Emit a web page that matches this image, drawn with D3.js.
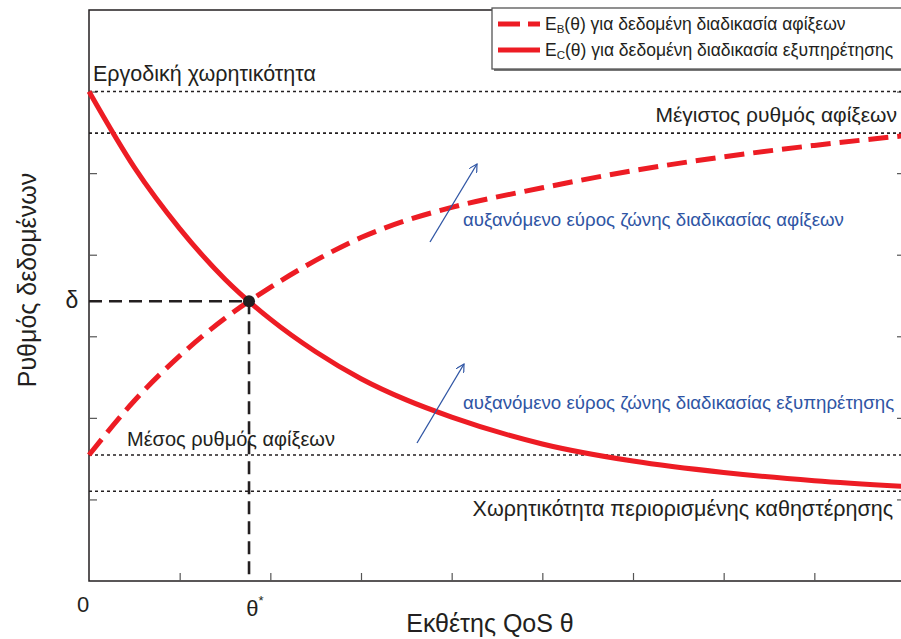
<!DOCTYPE html>
<html>
<head>
<meta charset="utf-8">
<script src="https://cdn.jsdelivr.net/npm/d3@7"></script>
<style>
  html, body { margin: 0; padding: 0; background: #fff; }
  svg { display: block; }
  text { font-family: "Liberation Sans", Arial, sans-serif; }
</style>
</head>
<body>
<svg id="chart" width="901" height="639"></svg>
<script>
// QoS exponent θ (x) and data rate (y), in axis units
const theta = [0, 0.5, 1, 1.5, 2, 2.5, 3, 3.5, 4, 5, 6, 7, 8, 9];
// Effective bandwidth of the arrival process, E_B(θ)
const arrivalEB = [1.545, 2.21, 2.76, 3.22, 3.60, 3.93, 4.21, 4.42, 4.58, 4.82, 5.03, 5.20, 5.34, 5.46];
// Effective capacity of the service process, E_C(θ)
const serviceEC = [6.0, 5.07, 4.32, 3.70, 3.21, 2.81, 2.48, 2.22, 2.01, 1.68, 1.47, 1.33, 1.23, 1.16];

const xTicks = [0, 1, 2, 3, 4, 5, 6, 7, 8, 9];
const yTicks = [1, 2, 3, 4, 5, 6];

// Reference levels
const refNames = ["Εργοδική χωρητικότητα", "Μέγιστος ρυθμός αφίξεων", "Μέσος ρυθμός αφίξεων", "Χωρητικότητα περιορισμένης καθηστέρησης"];
const refValues = [6.0, 5.49, 1.545, 1.10];

// Operating point where E_B(θ*) = E_C(θ*) = δ
const thetaStar = 1.765;
const delta = 3.43;

const legendLabels = ["για δεδομένη διαδικασία αφίξεων", "για δεδομένη διαδικασία εξυπηρέτησης"];
const legendSubs = ["B", "C"];
const arrowLabels = ["αυξανόμενο εύρος ζώνης διαδικασίας αφίξεων", "αυξανόμενο εύρος ζώνης διαδικασίας εξυπηρέτησης"];

const RED = "#ed1c24";
const INK = "#231f20";
const BLUE = "#2f55a4";

const svg = d3.select("#chart");
const plotL = 89, plotR = 905, plotT = 10, plotB = 581;

const x = d3.scaleLinear().domain([0, 9]).range([plotL, plotR]);
const y = d3.scaleLinear().domain([0, 7]).range([plotB, plotT]);

// Frame
svg.append("rect")
  .attr("x", plotL).attr("y", plotT)
  .attr("width", plotR - plotL).attr("height", plotB - plotT)
  .attr("fill", "none").attr("stroke", INK).attr("stroke-width", 1.5);

// Inward ticks via d3 axes
const axB = svg.append("g").attr("transform", `translate(0,${plotB})`)
  .call(d3.axisTop(x).tickValues(xTicks.slice(1)).tickSize(8).tickFormat(""));
const axL = svg.append("g").attr("transform", `translate(${plotL},0)`)
  .call(d3.axisRight(y).tickValues(yTicks).tickSize(8).tickFormat(""));
const axR = svg.append("g").attr("transform", `translate(${plotR},0)`)
  .call(d3.axisLeft(y).tickValues(yTicks).tickSize(8).tickFormat(""));
[axB, axL, axR].forEach(g => {
  g.select(".domain").remove();
  g.selectAll(".tick line").attr("stroke", "#555").attr("stroke-width", 1.2);
});

// Dotted reference levels
svg.append("g").selectAll("line").data(refValues).join("line")
  .attr("x1", plotL).attr("x2", plotR)
  .attr("y1", d => y(d)).attr("y2", d => y(d))
  .attr("stroke", INK).attr("stroke-width", 1.6)
  .attr("stroke-dasharray", "3,3");

// Reference level labels
const refPos = [
  { anchor: "start", x: 93, dy: -11, size: 21.5 },
  { anchor: "end", x: 897, dy: -11, size: 21 },
  { anchor: "start", x: 127, dy: -9, size: 20 },
  { anchor: "end", x: 893, dy: 25, size: 21.5 }
];
svg.append("g").selectAll("text").data(refNames).join("text")
  .attr("x", (d, i) => refPos[i].x)
  .attr("y", (d, i) => y(refValues[i]) + refPos[i].dy)
  .attr("text-anchor", (d, i) => refPos[i].anchor)
  .attr("font-size", (d, i) => refPos[i].size).attr("fill", INK)
  .text(d => d);

// δ / θ* guide lines
svg.append("line")
  .attr("x1", plotL).attr("x2", x(thetaStar))
  .attr("y1", y(delta)).attr("y2", y(delta))
  .attr("stroke", INK).attr("stroke-width", 2.6).attr("stroke-dasharray", "13,7");
svg.append("line")
  .attr("x1", x(thetaStar)).attr("x2", x(thetaStar))
  .attr("y1", y(delta)).attr("y2", plotB)
  .attr("stroke", INK).attr("stroke-width", 2.6).attr("stroke-dasharray", "13,7");

// Curves
const line = d3.line().x(d => x(d[0])).y(d => y(d[1])).curve(d3.curveMonotoneX);
svg.append("path")
  .datum(theta.map((t, i) => [t, serviceEC[i]]))
  .attr("d", line).attr("fill", "none")
  .attr("stroke", RED).attr("stroke-width", 5);
svg.append("path")
  .datum(theta.map((t, i) => [t, arrivalEB[i]]))
  .attr("d", line).attr("fill", "none")
  .attr("stroke", RED).attr("stroke-width", 5).attr("stroke-dasharray", "20,9");

// Operating point
svg.append("circle")
  .attr("cx", x(thetaStar)).attr("cy", y(delta)).attr("r", 6)
  .attr("fill", INK);

// Arrows
const defs = svg.append("defs");
defs.append("marker")
  .attr("id", "arr").attr("viewBox", "0 0 10 10")
  .attr("refX", 9).attr("refY", 5)
  .attr("markerWidth", 9).attr("markerHeight", 9)
  .attr("markerUnits", "userSpaceOnUse")
  .attr("orient", "auto")
  .append("path").attr("d", "M0,0 L9,5 L0,10")
  .attr("fill", "none").attr("stroke", BLUE).attr("stroke-width", 1.3);

const arrows = [
  { x1: 430, y1: 242, x2: 477, y2: 164 },
  { x1: 417, y1: 443, x2: 464, y2: 364 }
];
svg.append("g").selectAll("line").data(arrows).join("line")
  .attr("x1", d => d.x1).attr("y1", d => d.y1)
  .attr("x2", d => d.x2).attr("y2", d => d.y2)
  .attr("stroke", BLUE).attr("stroke-width", 1.3)
  .attr("marker-end", "url(#arr)");

const arrowTextPos = [{ x: 463, y: 226 }, { x: 463, y: 409 }];
svg.append("g").selectAll("text").data(arrowLabels).join("text")
  .attr("x", (d, i) => arrowTextPos[i].x).attr("y", (d, i) => arrowTextPos[i].y)
  .attr("font-size", 18.7).attr("fill", BLUE)
  .text(d => d);

// Axis labels
svg.append("text").attr("x", 83).attr("y", 612)
  .attr("text-anchor", "middle").attr("font-size", 22).attr("fill", INK).text("0");
const ts = svg.append("text").attr("x", 255).attr("y", 616)
  .attr("text-anchor", "middle").attr("font-size", 22).attr("fill", INK)
  .attr("font-family", "'Liberation Serif', serif");
ts.append("tspan").text("θ");
ts.append("tspan").attr("font-size", 13).attr("dy", -11).text("*");

svg.append("text").attr("x", 72).attr("y", 308)
  .attr("text-anchor", "middle").attr("font-size", 23).attr("fill", INK)
  .attr("font-family", "'Liberation Serif', serif").text("δ");

svg.append("text").attr("x", 490).attr("y", 632)
  .attr("text-anchor", "middle").attr("font-size", 25).attr("fill", INK)
  .text("Εκθέτης QoS θ");

svg.append("text")
  .attr("transform", "translate(36,280) rotate(-90)")
  .attr("text-anchor", "middle").attr("font-size", 25).attr("fill", INK)
  .text("Ρυθμός δεδομένων");

// Legend
const lg = svg.append("g");
lg.append("rect").attr("x", 494).attr("y", 10).attr("width", 420).attr("height", 61)
  .attr("fill", "#777");
lg.append("rect").attr("x", 492).attr("y", 8).attr("width", 420).attr("height", 61)
  .attr("fill", "#fff").attr("stroke", "#555").attr("stroke-width", 1.3);
const lgRows = [24, 50];
lg.selectAll("line.s").data(lgRows).join("line").attr("class", "s")
  .attr("x1", 498).attr("x2", 540)
  .attr("y1", d => d).attr("y2", d => d)
  .attr("stroke", RED).attr("stroke-width", 5)
  .attr("stroke-dasharray", (d, i) => i === 0 ? "22,8" : null);
const lt = lg.selectAll("text").data(legendLabels).join("text")
  .attr("x", 545).attr("y", (d, i) => lgRows[i] + 6)
  .attr("font-size", 17.5).attr("fill", INK);
lt.append("tspan").text("E");
lt.append("tspan").attr("font-size", 11.5).attr("dy", 3).text((d, i) => legendSubs[i]);
lt.append("tspan").attr("dy", -3).text(d => "(θ) " + d);
</script>
</body>
</html>
